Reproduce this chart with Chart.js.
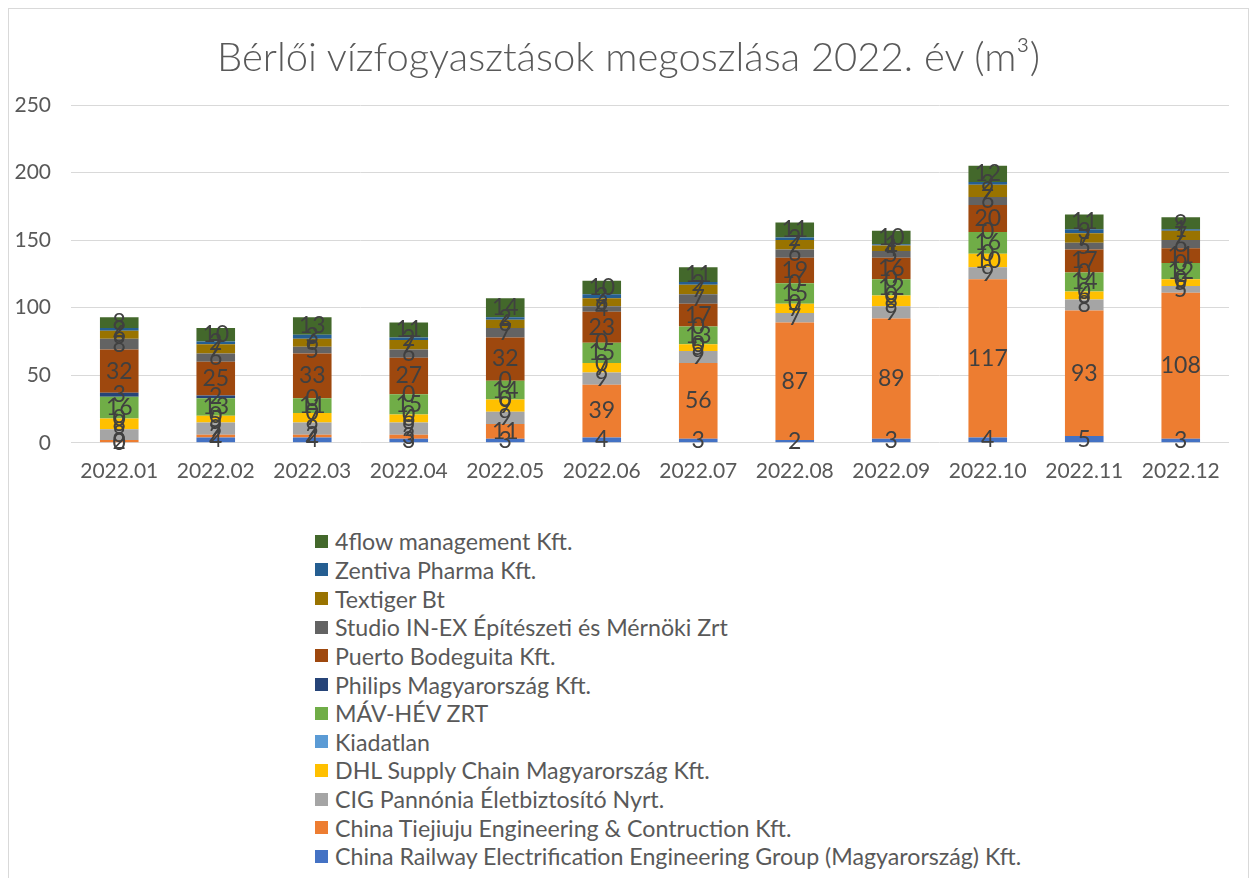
<!DOCTYPE html>
<html>
<head>
<meta charset="utf-8">
<script src="https://cdn.jsdelivr.net/npm/chart.js@4"></script>
<style>
  body { margin: 0; background: #fff; font-family: Lato, "Open Sans", sans-serif; }
  #keret { position: absolute; left: 8px; top: 8px; width: 1241px; height: 880px; border: 1px solid #d9d9d9; box-sizing: border-box; }
  #grafikon { position: absolute; left: 0; top: 0; }
  #cim { position: absolute; left: 0; top: 23px; width: 100%; text-align: center; font-size: 40px; font-weight: 300; line-height: 48px; color: #595959; }
  #jelmagyarazat { position: absolute; left: 306px; top: 518px; }
  .elem { height: 28.65px; display: flex; align-items: center; font-size: 23.2px; color: #595959; white-space: nowrap; }
  .doboz { width: 13px; height: 13px; margin-right: 7px; }
</style>
</head>
<body>
<div id="keret">
  <canvas id="grafikon" width="1240" height="500"></canvas>
  <div id="cim">Bérlői vízfogyasztások megoszlása 2022. év (m³)</div>
  <div id="jelmagyarazat"></div>
</div>
<script>
// ====== ADATOK ======
const honapok = ["2022.01", "2022.02", "2022.03", "2022.04", "2022.05", "2022.06",
  "2022.07", "2022.08", "2022.09", "2022.10", "2022.11", "2022.12"];

const chinaRailway = [0, 4, 4, 3, 3, 4, 3, 2, 3, 4, 5, 3];
const chinaTiejiuju = [2, 2, 2, 3, 11, 39, 56, 87, 89, 117, 93, 108];
const cigPannonia = [8, 9, 9, 9, 9, 9, 9, 7, 9, 9, 8, 5];
const dhl = [8, 5, 7, 6, 9, 7, 5, 7, 8, 10, 6, 5];
const kiadatlan = [0, 0, 0, 0, 0, 0, 0, 0, 0, 0, 0, 0];
const mavHev = [16, 13, 11, 15, 14, 15, 13, 15, 12, 16, 14, 12];
const philips = [3, 2, 0, 0, 0, 0, 0, 0, 0, 0, 0, 0];
const puertoBodeguita = [32, 25, 33, 27, 32, 23, 17, 19, 16, 20, 17, 11];
const studioInEx = [8, 6, 5, 6, 7, 4, 7, 6, 5, 6, 5, 6];
const textiger = [6, 7, 6, 7, 6, 6, 7, 7, 4, 9, 7, 7];
const zentiva = [2, 2, 3, 2, 2, 3, 2, 2, 1, 2, 3, 1];
const flow4 = [8, 10, 13, 11, 14, 10, 11, 11, 10, 12, 11, 9];

const yTickek = [0, 50, 100, 150, 200, 250];

const sorozatok = [
  { nev: "China Railway Electrification Engineering Group (Magyarország) Kft.", adat: chinaRailway, szin: "#4472C4" },
  { nev: "China Tiejiuju Engineering & Contruction Kft.", adat: chinaTiejiuju, szin: "#ED7D31" },
  { nev: "CIG Pannónia Életbiztosító Nyrt.", adat: cigPannonia, szin: "#A5A5A5" },
  { nev: "DHL Supply Chain Magyarország Kft.", adat: dhl, szin: "#FFC000" },
  { nev: "Kiadatlan", adat: kiadatlan, szin: "#5B9BD5" },
  { nev: "MÁV-HÉV ZRT", adat: mavHev, szin: "#70AD47" },
  { nev: "Philips Magyarország Kft.", adat: philips, szin: "#264478" },
  { nev: "Puerto Bodeguita Kft.", adat: puertoBodeguita, szin: "#9E480E" },
  { nev: "Studio IN-EX Építészeti és Mérnöki Zrt", adat: studioInEx, szin: "#636363" },
  { nev: "Textiger Bt", adat: textiger, szin: "#997300" },
  { nev: "Zentiva Pharma Kft.", adat: zentiva, szin: "#255E91" },
  { nev: "4flow management Kft.", adat: flow4, szin: "#43682B" }
];

// ====== CIMKEK ======
const cimkek = {
  id: "cimkek",
  afterDatasetsDraw(chart) {
    const ctx = chart.ctx;
    ctx.save();
    ctx.font = "23px Lato, 'Open Sans', sans-serif";
    ctx.fillStyle = "#404040";
    ctx.textAlign = "center";
    ctx.textBaseline = "middle";
    chart.data.datasets.forEach((ds, i) => {
      chart.getDatasetMeta(i).data.forEach((bar, j) => {
        const p = bar.getProps(["x", "y", "base"], true);
        ctx.fillText(ds.data[j], p.x, (p.y + p.base) / 2);
      });
    });
    ctx.restore();
  }
};

// ====== GRAFIKON ======
const betu = "Lato, 'Open Sans', sans-serif";

const chart = new Chart(document.getElementById("grafikon"), {
  type: "bar",
  data: {
    labels: honapok,
    datasets: sorozatok.map(s => ({
      label: s.nev,
      data: s.adat,
      backgroundColor: s.szin,
      categoryPercentage: 1,
      barPercentage: 0.4
    }))
  },
  options: {
    responsive: false,
    animation: false,
    layout: { padding: { top: 96, left: 4, right: 20, bottom: 17 } },
    plugins: {
      legend: { display: false },
      tooltip: { enabled: false },
      title: { display: false }
    },
    scales: {
      x: {
        stacked: true,
        grid: { display: false },
        border: { display: false },
        ticks: { color: "#595959", font: { family: betu, size: 21 }, padding: 8 }
      },
      y: {
        stacked: true,
        min: 0,
        max: 250,
        afterBuildTicks: ax => { ax.ticks = yTickek.map(v => ({ value: v })); },
        afterFit: ax => { ax.width = 58; },
        grid: { color: "#d9d9d9", lineWidth: 1, drawTicks: false },
        border: { display: false },
        ticks: { color: "#595959", font: { family: betu, size: 21 }, padding: 20 }
      }
    }
  },
  plugins: [cimkek]
});

// ====== JELMAGYARAZAT ======
const jelmagyarazat = document.getElementById("jelmagyarazat");
sorozatok.slice().reverse().forEach(s => {
  const div = document.createElement("div");
  div.className = "elem";
  div.innerHTML = `<span class="doboz" style="background:${s.szin}"></span><span>${s.nev}</span>`;
  jelmagyarazat.appendChild(div);
});
</script>
</body>
</html>
